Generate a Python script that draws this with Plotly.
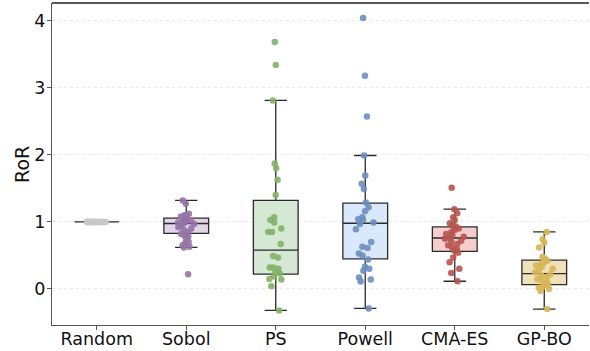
import plotly.graph_objects as go

# ---------------- data ----------------
categories = ["Random", "Sobol", "PS", "Powell", "CMA-ES", "GP-BO"]

random_vals = [1.0] * 30
sobol_vals = [1.32, 1.27, 1.12, 1.10, 1.10, 1.08, 1.05, 1.04, 1.02, 1.01, 1.00, 0.99,
              0.98, 0.97, 0.95, 0.92, 0.90, 0.88, 0.85, 0.82, 0.80, 0.78, 0.75, 0.70,
              0.68, 0.65, 0.63, 0.62, 0.22]
ps_vals = [3.68, 3.34, 2.81, 1.87, 1.80, 1.63, 1.40, 1.07, 1.03, 0.99, 0.90, 0.85,
           0.85, 0.67, 0.49, 0.47, 0.32, 0.32, 0.30, 0.25, 0.23, 0.19, 0.15, 0.14,
           0.04, -0.32]
powell_vals = [4.04, 3.18, 2.57, 1.99, 1.69, 1.57, 1.49, 1.29, 1.22, 1.16, 1.07, 1.04,
               1.03, 0.99, 0.97, 0.89, 0.70, 0.63, 0.61, 0.53, 0.50, 0.44, 0.33, 0.30,
               0.27, 0.17, 0.14, 0.11, -0.29]
cmaes_vals = [1.51, 1.19, 1.13, 1.07, 1.03, 0.98, 0.95, 0.93, 0.90, 0.88, 0.85, 0.82,
              0.80, 0.78, 0.76, 0.75, 0.72, 0.70, 0.67, 0.65, 0.62, 0.59, 0.57, 0.54,
              0.47, 0.40, 0.30, 0.24, 0.115]
gpbo_vals = [0.85, 0.74, 0.69, 0.62, 0.48, 0.45, 0.42, 0.40, 0.38, 0.35, 0.33, 0.30,
             0.28, 0.25, 0.22, 0.20, 0.18, 0.15, 0.13, 0.10, 0.08, 0.06, 0.03, 0.02,
             0.0, -0.03, -0.30]
values = [random_vals, sobol_vals, ps_vals, powell_vals, cmaes_vals, gpbo_vals]

# box statistics
q1 = [1.0, 0.83, 0.22, 0.45, 0.56, 0.065]
medians = [1.0, 0.976, 0.58, 0.98, 0.76, 0.23]
q3 = [1.0, 1.055, 1.32, 1.28, 0.925, 0.43]
lower_whisker = [1.0, 0.62, -0.32, -0.29, 0.115, -0.30]
upper_whisker = [1.0, 1.32, 2.81, 1.99, 1.19, 0.85]

point_colors = ["#c8c8c8", "#9673a6", "#82b366", "#6c8ebf", "#b85450", "#d6b656"]
box_fills = ["#f5f5f5", "#e1d5e7", "#d5e8d4", "#dae8fc", "#f6cdcc", "#f0e2b8"]

yticks = [0, 1, 2, 3, 4]
y_title = "RoR"

# ---------------- figure ----------------
fig = go.Figure()
FONT = "DejaVu Sans"

for i, cat in enumerate(categories):
    fig.add_trace(go.Box(
        x=[cat], q1=[q1[i]], median=[medians[i]], q3=[q3[i]],
        lowerfence=[lower_whisker[i]], upperfence=[upper_whisker[i]],
        fillcolor=box_fills[i], line=dict(color="#2b2b2b", width=1.3),
        whiskerwidth=0.5, width=0.5, boxpoints=False, showlegend=False,
    ))

for i, cat in enumerate(categories):
    fig.add_trace(go.Box(
        x=[cat] * len(values[i]), y=values[i],
        boxpoints="all", jitter=0.45, pointpos=0, width=0.5,
        fillcolor="rgba(0,0,0,0)", line=dict(color="rgba(0,0,0,0)", width=0),
        marker=dict(color=point_colors[i], size=6.5, opacity=0.9),
        showlegend=False,
    ))

fig.update_layout(
    width=590, height=351,
    margin=dict(l=52, r=1, t=3, b=26),
    paper_bgcolor="white", plot_bgcolor="white",
    boxmode="overlay",
    font=dict(family=FONT, size=17.5, color="#111"),
)
fig.update_xaxes(
    type="category", categoryorder="array", categoryarray=categories,
    range=[-0.5, 5.5], showgrid=False, showline=True, linecolor="#555",
    linewidth=1.3, ticks="outside", ticklen=4, tickcolor="#555",
    tickfont=dict(family=FONT, size=17.5, color="#111"), automargin=False,
    ticklabelstandoff=-6,
)
fig.update_yaxes(
    range=[-0.537, 4.263], tickvals=yticks, showgrid=True, gridcolor="#e6e6e6",
    griddash="dot", gridwidth=1, zeroline=False, showline=True, linecolor="#555",
    linewidth=1.3, ticks="outside", ticklen=4, tickcolor="#555",
    tickfont=dict(family=FONT, size=17.5, color="#111"), automargin=False,
    ticklabelstandoff=-2,
)
fig.add_annotation(text=y_title, xref="paper", yref="paper", x=-0.056, y=0.5,
                   xanchor="center", yanchor="middle", textangle=-90, showarrow=False,
                   font=dict(family=FONT, size=19, color="#111"))
fig.add_shape(type="line", xref="paper", yref="paper", x0=0, x1=1, y0=1, y1=1,
              line=dict(color="#222", width=1.3))

fig.write_html("out.html", config={"displayModeBar": False},
               post_script="document.body.style.margin='0px';document.body.style.padding='0px';")
